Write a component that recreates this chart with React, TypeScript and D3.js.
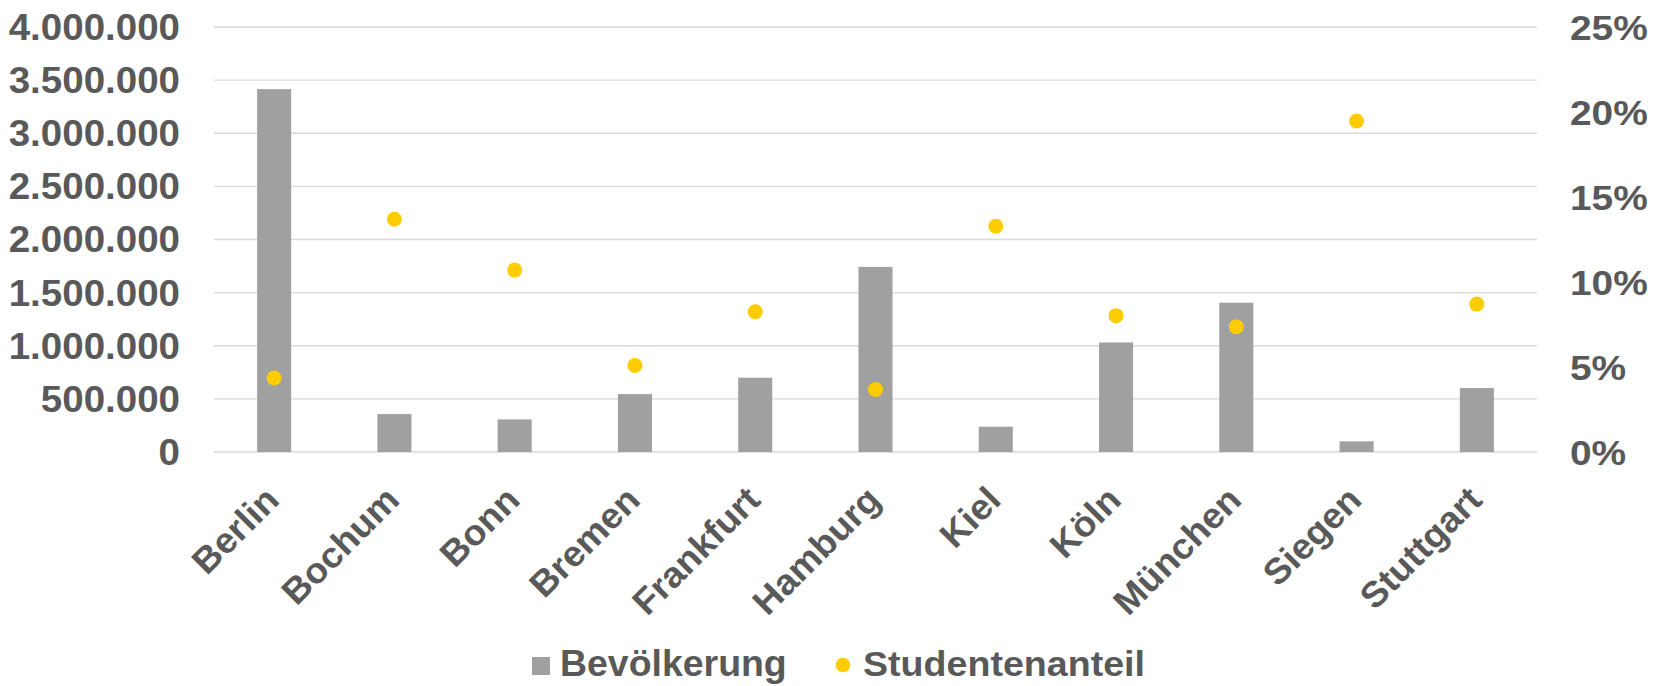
import React from 'react';
import * as d3 from 'd3';

const CITIES = ['Berlin', 'Bochum', 'Bonn', 'Bremen', 'Frankfurt', 'Hamburg',
  'Kiel', 'Köln', 'München', 'Siegen', 'Stuttgart'];
const POPULATION = [3415000, 357000, 307000, 545000, 699000, 1742000,
  238000, 1031000, 1405000, 100000, 602000];
const STUDENT_SHARE = [0.0435, 0.1369, 0.107, 0.0509, 0.0825, 0.0368,
  0.1328, 0.0802, 0.0737, 0.1947, 0.087];
const LEFT_TICKS = [0, 500000, 1000000, 1500000, 2000000, 2500000, 3000000, 3500000, 4000000];
const RIGHT_TICKS = [0, 0.05, 0.1, 0.15, 0.2, 0.25];

const W = 1661;
const H = 686;
const FONT = "'Liberation Sans', Arial, sans-serif";
const TEXT = '#595959';
const BAR = '#A0A0A0';
const DOT = '#FFCC00';

const fmtDe = (v: number) => d3.format(',')(v).replace(/,/g, '.');

// text drawn slightly wider than Liberation Sans to match the original font
const Label = ({ x, y, sx, anchor = 'start', rotate = 0, dy, children }: any) => (
  <g transform={`translate(${x},${y}) rotate(${rotate}) scale(${sx},1)`}>
    <text textAnchor={anchor} dy={dy} fontSize={36}>{children}</text>
  </g>
);

export default function App() {
  const x = d3.scaleBand<string>().domain(CITIES).range([214, 1537]).padding(0);
  const yL = d3.scaleLinear().domain([0, 4000000]).range([452, 27]);
  const yR = d3.scaleLinear().domain([0, 0.25]).range([452, 27]);
  const step = x.step();
  const bw = step * 0.283;

  return (
    <svg width={W} height={H} style={{ position: 'absolute', left: 0, top: 0, background: '#fff' }}
      fontFamily={FONT} fontWeight="bold" fill={TEXT}>
      {/* gridlines */}
      {LEFT_TICKS.map(t => (
        <line key={t} x1={214} x2={1537} y1={yL(t)} y2={yL(t)} stroke="#D9D9D9" strokeWidth={1.4} />
      ))}

      {/* bars */}
      {CITIES.map((c, i) => (
        <rect key={c} x={x(c)! + (step - bw) / 2} y={yL(POPULATION[i])} width={bw}
          height={yL(0) - yL(POPULATION[i])} fill={BAR} />
      ))}

      {/* dots */}
      {CITIES.map((c, i) => (
        <circle key={c} cx={x(c)! + step / 2} cy={yR(STUDENT_SHARE[i])} r={7.5} fill={DOT} />
      ))}

      {/* left axis */}
      {LEFT_TICKS.map(t => (
        <Label key={t} x={180} y={yL(t)} dy="0.36em" anchor="end" sx={1.07}>{fmtDe(t)}</Label>
      ))}

      {/* right axis */}
      {RIGHT_TICKS.map(t => (
        <Label key={t} x={1570} y={yR(t)} dy="0.36em" sx={1.08}>{d3.format('.0%')(t)}</Label>
      ))}

      {/* category labels */}
      {CITIES.map(c => (
        <Label key={c} x={x(c)! + step / 2 + 7} y={502} anchor="end" rotate={-45} sx={1.03}>{c}</Label>
      ))}

      {/* legend */}
      <rect x={532} y={657} width={18} height={18} fill={BAR} />
      <Label x={560} y={676} sx={1.04}>Bevölkerung</Label>
      <circle cx={843} cy={665} r={7.3} fill={DOT} />
      <Label x={863} y={676} sx={1.045}>Studentenanteil</Label>
    </svg>
  );
}
